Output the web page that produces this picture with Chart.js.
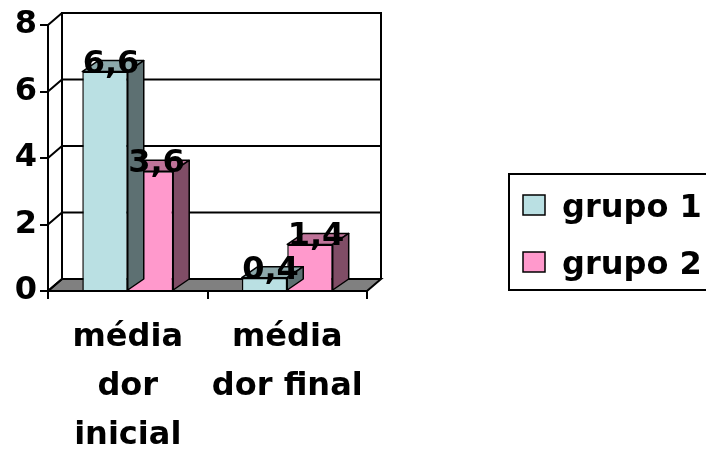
<!DOCTYPE html>
<html><head><meta charset="utf-8">
<script src="https://cdn.jsdelivr.net/npm/chart.js@4/dist/chart.umd.min.js"></script>
<style>html,body{margin:0;padding:0;background:#fff;overflow:hidden}#wrap{position:relative;width:706px;height:452px}</style>
</head><body><div id="wrap"><canvas id="c" width="706" height="452"></canvas></div>
<script>
// ---- data ----
const categories = [["média", "dor", "inicial"], ["média", "dor final"]];
const seriesNames = ["grupo 1", "grupo 2"];
const grupo1 = [6.6, 0.4];
const grupo2 = [3.6, 1.4];
const yTicks = [0, 2, 4, 6, 8];
const seriesColors = ["#BAE0E3", "#FF99CC"];

// ---- styling ----
const FONT = "'DejaVu Sans', sans-serif";
const WALL = { dx: 14, dy: -12 };
const BAR = { dx: 16, dy: -11 };

function shade(hex, f) {
  const n = parseInt(hex.slice(1), 16);
  const r = Math.round(((n >> 16) & 255) * f), g = Math.round(((n >> 8) & 255) * f), b = Math.round((n & 255) * f);
  return `rgb(${r},${g},${b})`;
}
function fmt(v) { return String(v).replace('.', ','); }

const threeD = {
  id: 'threeD',
  beforeDatasetsDraw(chart) {
    const { ctx, chartArea: a, scales: { y } } = chart;
    const y0 = y.getPixelForValue(yTicks[0]);
    const yT = y.getPixelForValue(yTicks[yTicks.length - 1]);
    ctx.save();
    ctx.strokeStyle = '#000'; ctx.lineWidth = 2;
    // floor
    ctx.beginPath();
    ctx.moveTo(a.left, y0); ctx.lineTo(a.right, y0);
    ctx.lineTo(a.right + WALL.dx, y0 + WALL.dy); ctx.lineTo(a.left + WALL.dx, y0 + WALL.dy);
    ctx.closePath();
    ctx.fillStyle = '#808080'; ctx.fill(); ctx.stroke();
    // back wall outline
    ctx.beginPath();
    ctx.moveTo(a.left + WALL.dx, y0 + WALL.dy); ctx.lineTo(a.left + WALL.dx, yT + WALL.dy);
    ctx.lineTo(a.right + WALL.dx, yT + WALL.dy); ctx.lineTo(a.right + WALL.dx, y0 + WALL.dy);
    ctx.stroke();
    // gridlines on side wall + back wall
    yTicks.forEach(v => {
      const py = y.getPixelForValue(v);
      ctx.beginPath();
      ctx.moveTo(a.left, py); ctx.lineTo(a.left + WALL.dx, py + WALL.dy);
      if (v !== yTicks[0]) ctx.lineTo(a.right + WALL.dx, py + WALL.dy);
      ctx.stroke();
    });
    ctx.restore();
  },
  afterDatasetDraw(chart, args) {
    const { ctx } = chart;
    const meta = args.meta;
    const base = seriesColors[args.index];
    ctx.save();
    ctx.strokeStyle = '#000'; ctx.lineWidth = 1.5; ctx.lineJoin = 'round';
    meta.data.forEach(el => {
      const { x, y, base: b, width: w } = el.getProps(['x', 'y', 'base', 'width'], true);
      const l = x - w / 2, r = x + w / 2;
      // top face
      ctx.beginPath();
      ctx.moveTo(l, y); ctx.lineTo(r, y); ctx.lineTo(r + BAR.dx, y + BAR.dy); ctx.lineTo(l + BAR.dx, y + BAR.dy);
      ctx.closePath(); ctx.fillStyle = shade(base, 0.75); ctx.fill(); ctx.stroke();
      // side face
      ctx.beginPath();
      ctx.moveTo(r, y); ctx.lineTo(r + BAR.dx, y + BAR.dy); ctx.lineTo(r + BAR.dx, b + BAR.dy); ctx.lineTo(r, b);
      ctx.closePath(); ctx.fillStyle = shade(base, 0.5); ctx.fill(); ctx.stroke();
    });
    ctx.restore();
  },
  afterDraw(chart) {
    const { ctx } = chart;
    ctx.save();
    ctx.fillStyle = '#000';
    ctx.font = `bold 32px ${FONT}`;
    ctx.textAlign = 'center'; ctx.textBaseline = 'alphabetic';
    chart.data.datasets.forEach((ds, i) => {
      const meta = chart.getDatasetMeta(i);
      meta.data.forEach((el, j) => {
        ctx.fillText(fmt(ds.data[j]), el.x + 6, el.y + 1);
      });
    });
    // legend
    ctx.strokeStyle = '#000'; ctx.lineWidth = 2;
    ctx.strokeRect(509, 174, 220, 116);
    ctx.textAlign = 'left';
    chart.data.datasets.forEach((ds, i) => {
      const ty = 195 + i * 57;
      ctx.fillStyle = ds.backgroundColor;
      ctx.fillRect(523, ty, 22, 20);
      ctx.lineWidth = 1.5; ctx.strokeRect(523, ty, 22, 20);
      ctx.fillStyle = '#000';
      ctx.fillText(ds.label, 562, ty + 22);
    });
    ctx.restore();
  }
};

new Chart(document.getElementById('c'), {
  type: 'bar',
  data: {
    labels: categories,
    datasets: [
      { label: seriesNames[0], data: grupo1, backgroundColor: seriesColors[0], borderColor: '#000', borderWidth: 1.5 },
      { label: seriesNames[1], data: grupo2, backgroundColor: seriesColors[1], borderColor: '#000', borderWidth: 1.5 }
    ]
  },
  options: {
    responsive: false, animation: false, devicePixelRatio: 1,
    categoryPercentage: 0.57, barPercentage: 1,
    layout: { padding: { top: 25, right: 339, left: 0, bottom: 0 } },
    plugins: { legend: { display: false }, tooltip: { enabled: false } },
    scales: {
      x: {
        offset: true,
        grid: { drawOnChartArea: false, drawTicks: true, tickLength: 8, color: '#000', lineWidth: 2, offset: true },
        border: { display: true, color: '#000', width: 2 },
        ticks: { color: '#000', font: { family: FONT, size: 32, weight: 'bold', lineHeight: 1.53 }, padding: 14, maxRotation: 0, autoSkip: false },
        afterFit(s) { s.height = 161; }
      },
      y: {
        min: yTicks[0], max: yTicks[yTicks.length - 1],
        afterBuildTicks(s) { s.ticks = yTicks.map(v => ({ value: v })); },
        ticks: { color: '#000', font: { family: FONT, size: 32, weight: 'bold' }, padding: 3 },
        grid: { drawOnChartArea: false, tickLength: 8, color: '#000', lineWidth: 2 },
        border: { display: true, color: '#000', width: 2 },
        afterFit(s) { s.width = 48; }
      }
    }
  },
  plugins: [threeD]
});
</script></body></html>
